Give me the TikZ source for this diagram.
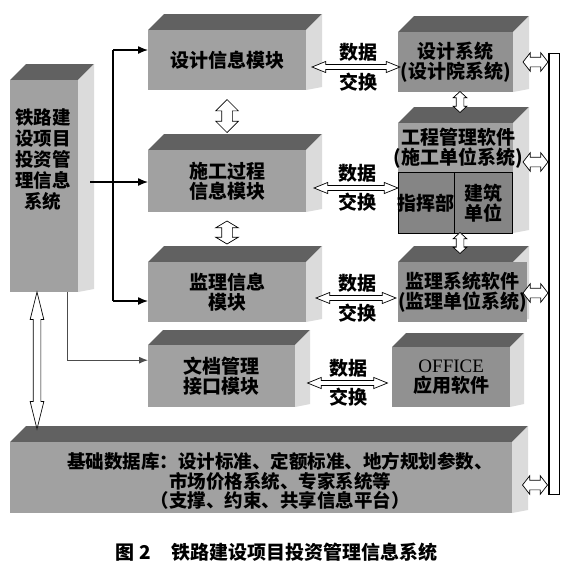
\documentclass[tikz,border=0pt]{standalone}
\usepackage{fontspec}
\setmainfont{Noto Sans CJK SC}
\newfontfamily\latinserif{Liberation Serif}
\usetikzlibrary{shapes.arrows,arrows.meta,calc}
\definecolor{frontc}{gray}{0.63}
\definecolor{frontd}{gray}{0.57}
\definecolor{topc}{gray}{0.38}
\definecolor{sidec}{gray}{0.86}
\definecolor{innerc}{gray}{0.52}
\newcommand\bx{\fontsize{19}{20}\selectfont\bfseries}
\tikzset{
  frontface/.style={draw=none, inner sep=0pt, anchor=north west, align=center, font=\bx},
  label/.style={inner sep=0pt, align=center, font=\bx},
  hollowarrow/.style={double arrow, draw=black, fill=white, line width=0.7pt, inner sep=0pt},
  exarrow/.style={hollowarrow, inner ysep=2.2pt, double arrow head extend=3pt, double arrow tip angle=44},
  fatarrow/.style={hollowarrow, rotate=90, inner ysep=5pt, double arrow head extend=6pt, double arrow tip angle=90},
  slimvarrow/.style={hollowarrow, rotate=90, inner ysep=3.5pt, double arrow head extend=3pt, double arrow tip angle=95},
  busarrow/.style={hollowarrow, inner ysep=4.5pt, double arrow head extend=4.5pt, double arrow tip angle=104},
  longarrow/.style={hollowarrow, rotate=90, inner ysep=3.5pt, double arrow head extend=3pt, double arrow tip angle=28},
  conn/.style={-{Latex[length=10pt,width=8pt]}, line width=1.3pt},
  connlight/.style={-{Latex[length=9pt,width=7pt]}, line width=1pt, draw=black!70},
}
% #1 name, #2 x1, #3 y1, #4 x2, #5 y2, #6 depth, #7 front colour, #8 text
\newcommand\cubebox[8]{%
  \fill[topc] (#2,#3) -- (#2+#6,#3-#6) -- (#4+#6,#3-#6) -- (#4,#3) -- cycle;
  \fill[sidec] (#4,#3) -- (#4+#6,#3-#6) -- (#4+#6,#5-3) -- (#4,#5) -- cycle;
  \node[frontface, fill=#7, minimum width={(#4-#2)*1pt}, minimum height={(#5-#3)*1pt}] (#1) at (#2,#3) {#8};
}
\begin{document}
\begin{tikzpicture}[x=1pt,y=-1pt]
\useasboundingbox (0,0) rectangle (570,566);
\fill[white] (0,0) rectangle (570,566);

% left column of system
\cubebox{L}{10}{80}{78}{292}{16}{frontc}{}
\node[label, font=\fontsize{18.5}{21}\selectfont\bfseries] (Lt) at (43,160) {铁路建\\设项目\\投资管\\理信息\\系统};

% module boxes
\cubebox{b1}{148}{30}{306}{90}{16}{frontc}{设计信息模块}
\cubebox{b2}{148}{150}{306}{212}{16}{frontc}{施工过程\\信息模块}
\cubebox{b3}{148}{262}{306}{322}{16}{frontc}{监理信息\\模块}
\cubebox{b4}{148}{345}{295}{407}{15}{frontc}{文档管理\\接口模块}

% right boxes
\cubebox{r1}{398}{32}{513}{92}{16}{frontd}{设计系统\\(设计院系统)}
\cubebox{r2}{398}{123}{513}{233}{16}{frontc}{}
\node[label] (r2t) at (458,148) {工程管理软件\\(施工单位系统)};
\node[draw=black, line width=0.8pt, fill=innerc, minimum width=56pt, minimum height=61pt, anchor=north west, inner sep=0pt] (in1) at (398,172) {};
\node[draw=black, line width=0.8pt, fill=innerc, minimum width=58pt, minimum height=61pt, anchor=north west, inner sep=0pt] (in2) at (454,172) {};
\node[label] (in1t) at (in1.center) {指挥部};
\node[label] (in2t) at (in2.center) {建筑\\单位};
\cubebox{r3}{398}{262}{513}{322}{16}{frontd}{监理系统软件\\(监理单位系统)}
\cubebox{r4}{392}{347}{510}{407}{14}{frontd}{{\latinserif\mdseries OFFICE}\\应用软件}

% base database
\cubebox{D}{10}{442}{512}{513}{16}{frontc}{}
\node[label, font=\fontsize{18.5}{19.5}\selectfont\bfseries] (Dt) at (280,481) {基础数据库：设计标准、定额标准、地方规划参数、\\市场价格系统、专家系统等\\（支撑、约束、共享信息平台）};

% data exchange labels and arrows
\node[label] (e1a) at (358,52) {数据};
\node[label] (e1b) at (358,82) {交换};
\node[exarrow, minimum height=88pt] (x1) at (356,67) {};
\node[label] (e2a) at (357,173) {数据};
\node[label] (e2b) at (357,202) {交换};
\node[exarrow, minimum height=84pt] (x2) at (356,188) {};
\node[label] (e3a) at (357,283) {数据};
\node[label] (e3b) at (357,313) {交换};
\node[exarrow, minimum height=80pt] (x3) at (356,298) {};
\node[label] (e4a) at (348,368) {数据};
\node[label] (e4b) at (348,397) {交换};
\node[exarrow, minimum height=80pt] (x4) at (347.5,383) {};

% vertical hollow arrows
\node[fatarrow, minimum height=33pt] (v1) at (227,116) {};
\node[fatarrow, double arrow tip angle=118, minimum height=23pt] (v2) at (227,232.5) {};
\node[slimvarrow, minimum height=21pt] (v3) at (460,102) {};
\node[slimvarrow, minimum height=21pt] (v4) at (460,243) {};
\node[longarrow, minimum height=137pt] (v5) at (37,360.5) {};

% right bus bar
\node[draw=black, fill=white, line width=0.8pt, minimum width=11pt, minimum height=441pt, inner sep=0pt] (bar) at (553.5,273.5) {};
\draw[line width=0.5pt] ([xshift=2pt]bar.north west) -- ([xshift=2pt]bar.south west);
\node[busarrow, minimum height=25pt] (h1) at (535.5,62) {};
\node[busarrow, minimum height=25pt] (h2) at (535.5,162) {};
\node[busarrow, minimum height=25pt] (h3) at (535.5,293) {};
\node[busarrow, minimum height=25pt] (h4) at (535,485) {};

% black connectors
\coordinate (j1) at (113,50);
\coordinate (j3) at (113,301);
\coordinate (ls) at (90,182);
\coordinate (lb) at (67,292);
\draw[line width=1.3pt] (j1) -- (j3);
\draw[conn] (j1) -- (j1 -| b1.west);
\draw[conn] (j3) -- (j3 -| b3.west);
\draw[conn] (ls) -- (ls -| b2.west);
\draw[connlight] (lb) |- ([yshift=16pt]b4.west);

% caption
\node[inner sep=0pt, font=\fontsize{19}{20}\selectfont\bfseries] (cap) at (276.5,552) {图\hspace{5pt}2\hspace{20pt}铁路建设项目投资管理信息系统};
\end{tikzpicture}
\end{document}
